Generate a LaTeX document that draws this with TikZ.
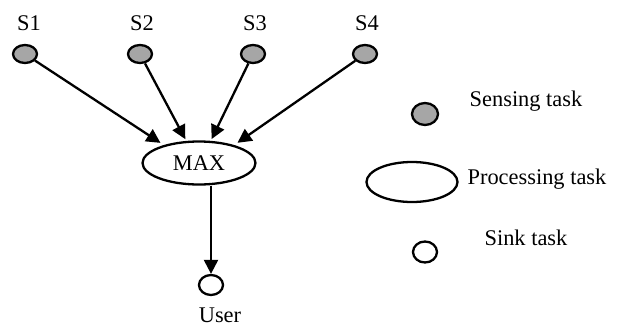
\documentclass[tikz,border=0pt]{standalone}
\usepackage{fontspec}
\setmainfont{Liberation Serif}
\usetikzlibrary{positioning,arrows.meta,shapes.geometric}

\begin{document}
\begin{tikzpicture}[x=0.5pt,y=-0.5pt,
			>={Triangle[length=7pt,width=7pt]},
			line width=1.15pt,
			every node/.style={font=\fontsize{11.2}{13}\selectfont},
			sensing/.style={draw,ellipse,fill=black!35,inner sep=0pt,
				minimum width=12pt,minimum height=9pt},
			processing/.style={draw,ellipse,fill=white,inner sep=0pt,
				minimum width=56.5pt,minimum height=21.5pt},
			sink/.style={draw,ellipse,fill=white,inner sep=0pt,
				minimum width=12pt,minimum height=10pt},
			label/.style={anchor=base,inner sep=0pt}]
			
			\useasboundingbox (0,0) rectangle (618,327);
			
			% sensing tasks
			\node (s1)[sensing] at (25,54){};
			\node (s2)[sensing] at (140,54){};
			\node (s3)[sensing] at (253,54){};
			\node (s4)[sensing] at (365,54){};
			
			\node (s1l)[label] at (29,30){S1};
			\node (s2l)[label] at (142,30){S2};
			\node (s3l)[label] at (255,30){S3};
			\node (s4l)[label] at (367,30){S4};
			
			% processing and sink
			\node (max)[processing] at (199,163){MAX};
			
			\node (user)[sink] at (211,285){};
			
			\node (userl)[label] at (220,322){User};
			
			\draw[->,shorten >=2pt](s1)--(max.153);
			
			\draw[->,shorten >=1pt](s2)--(max.120);
			
			\draw[->,shorten >=1pt](s3)--(max.62);
			
			\draw[->,shorten >=2pt](s4)--(max.27);
			
			\draw[->](max.south -| user.north)--(user);
			
			% legend
			\node (legs)[sensing,minimum width=13pt,minimum height=11pt] at (425,114){};
			\node (legp)[processing,minimum width=45.5pt,minimum height=20pt] at (412,182){};
			\node (legk)[sink,minimum height=10.5pt] at (425,252){};
			
			\node (legsl)[label] at (526,106.5){Sensing task};
			\node (legpl)[label] at (537,184.5){Processing task};
			\node (legkl)[label] at (526,245){Sink task};
			
		\end{tikzpicture}
\end{document}
